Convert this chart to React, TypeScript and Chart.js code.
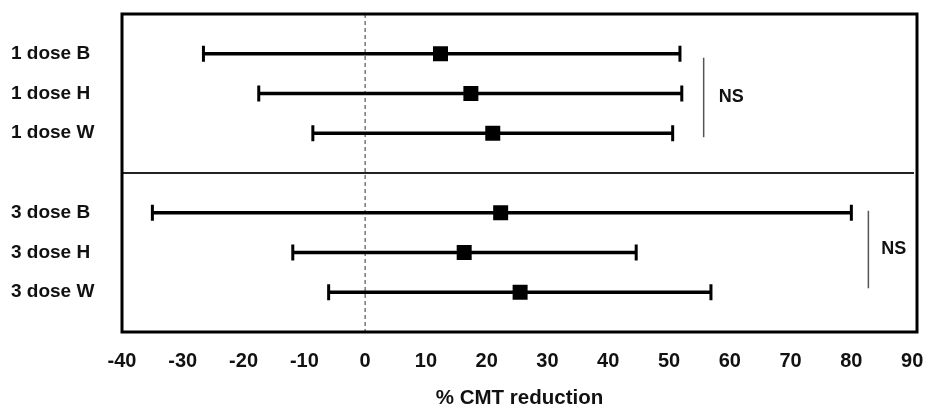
import React, { useEffect, useRef } from "react";
import { Chart, registerables } from "chart.js";

Chart.register(...registerables);

const categories = ["1 dose B", "1 dose H", "1 dose W", "3 dose B", "3 dose H", "3 dose W"];
const rowPositions = [0, 1, 2, 4, 5, 6];
const means = [12.4, 17.4, 21.0, 22.3, 16.3, 25.5];
const lows = [-26.6, -17.5, -8.6, -35.0, -11.9, -6.0];
const highs = [51.8, 52.1, 50.6, 80.0, 44.6, 56.9];
const xTicks = [-40, -30, -20, -10, 0, 10, 20, 30, 40, 50, 60, 70, 80, 90];
const dividerRow = 3;

const nsLabels = ["NS", "NS"];
const nsLineX = [55.7, 82.8];
const nsFrom = [0.1, 3.95];
const nsTo = [2.1, 5.9];
const nsTextX = [58.2, 84.9];

const FONT = "'Liberation Sans', Arial, Helvetica, sans-serif";

const forestPlugin = {
  id: "forestPlugin",
  beforeDatasetsDraw(chart: any) {
    const { ctx, chartArea, scales } = chart;
    const xs = scales.x;
    const ys = scales.y;
    ctx.save();
    const x0 = xs.getPixelForValue(0);
    ctx.strokeStyle = "#333";
    ctx.lineWidth = 1;
    ctx.setLineDash([4, 3]);
    ctx.beginPath();
    ctx.moveTo(x0, chartArea.top);
    ctx.lineTo(x0, chartArea.bottom);
    ctx.stroke();
    ctx.setLineDash([]);
    const yd = ys.getPixelForValue(dividerRow);
    ctx.strokeStyle = "#222";
    ctx.lineWidth = 2;
    ctx.beginPath();
    ctx.moveTo(chartArea.left, yd);
    ctx.lineTo(chartArea.right - 3, yd);
    ctx.stroke();
    ctx.strokeStyle = "#000";
    ctx.lineCap = "butt";
    rowPositions.forEach((r, i) => {
      const y = ys.getPixelForValue(r);
      const xl = xs.getPixelForValue(lows[i]);
      const xh = xs.getPixelForValue(highs[i]);
      ctx.lineWidth = 3.5;
      ctx.beginPath();
      ctx.moveTo(xl, y);
      ctx.lineTo(xh, y);
      ctx.stroke();
      ctx.lineWidth = 3;
      ctx.beginPath();
      ctx.moveTo(xl, y - 8);
      ctx.lineTo(xl, y + 8);
      ctx.moveTo(xh, y - 8);
      ctx.lineTo(xh, y + 8);
      ctx.stroke();
    });
    ctx.restore();
  },
  afterDraw(chart: any) {
    const { ctx, chartArea, scales } = chart;
    const xs = scales.x;
    const ys = scales.y;
    ctx.save();
    ctx.strokeStyle = "#000";
    ctx.lineWidth = 3;
    ctx.strokeRect(chartArea.left, chartArea.top, chartArea.right - chartArea.left, chartArea.bottom - chartArea.top);
    nsLabels.forEach((label, i) => {
      const x = xs.getPixelForValue(nsLineX[i]);
      const y1 = ys.getPixelForValue(nsFrom[i]);
      const y2 = ys.getPixelForValue(nsTo[i]);
      ctx.strokeStyle = "#555";
      ctx.lineWidth = 1.5;
      ctx.beginPath();
      ctx.moveTo(x, y1);
      ctx.lineTo(x, y2);
      ctx.stroke();
      ctx.fillStyle = "#111";
      ctx.font = `bold 18px ${FONT}`;
      ctx.textAlign = "left";
      ctx.textBaseline = "middle";
      ctx.fillText(label, xs.getPixelForValue(nsTextX[i]), (y1 + y2) / 2);
    });
    ctx.restore();
  },
};

export default function App() {
  const canvasRef = useRef<HTMLCanvasElement>(null);

  useEffect(() => {
    if (!canvasRef.current) return;
    const chart = new Chart(canvasRef.current, {
      type: "scatter",
      data: {
        datasets: [
          {
            data: rowPositions.map((r, i) => ({ x: means[i], y: r })),
            pointStyle: "rect",
            pointRadius: 10.6,
            pointHoverRadius: 10.6,
            backgroundColor: "#000",
            borderColor: "#000",
            borderWidth: 0,
          },
        ],
      },
      plugins: [forestPlugin],
      options: {
        animation: false,
        responsive: false,
        maintainAspectRatio: false,
        layout: { padding: { left: 11, right: 15, top: 14, bottom: 0 } },
        plugins: {
          legend: { display: false },
          tooltip: { enabled: false },
        },
        scales: {
          x: {
            type: "linear",
            min: -40,
            max: 90.8,
            grid: { display: false, drawTicks: false },
            border: { display: false },
            afterBuildTicks: (scale: any) => {
              scale.ticks = xTicks.map((v) => ({ value: v }));
            },
            afterFit: (scale: any) => {
              scale.height = 77;
              scale.paddingLeft = 0;
              scale.paddingRight = 0;
            },
            ticks: {
              color: "#111",
              padding: 17,
              maxRotation: 0,
              autoSkip: false,
              font: { family: FONT, size: 20, weight: "bold" },
            },
            title: {
              display: true,
              text: "% CMT reduction",
              color: "#111",
              padding: { top: 0, bottom: 0 },
              font: { family: FONT, size: 20.5, weight: "bold", lineHeight: 1 },
            },
          },
          y: {
            type: "linear",
            reverse: true,
            min: -1,
            max: 7,
            grid: { display: false, drawTicks: false },
            border: { display: false },
            afterBuildTicks: (scale: any) => {
              scale.ticks = rowPositions.map((v) => ({ value: v }));
            },
            afterFit: (scale: any) => {
              scale.width = 111;
              scale.paddingTop = 0;
              scale.paddingBottom = 0;
            },
            ticks: {
              color: "#111",
              crossAlign: "far",
              autoSkip: false,
              callback: (v: any) => {
                const idx = rowPositions.indexOf(Number(v));
                return idx >= 0 ? categories[idx] : "";
              },
              font: { family: FONT, size: 19, weight: "bold" },
            },
          },
        },
      },
    });
    return () => chart.destroy();
  }, []);

  return (
    <div style={{ position: "fixed", left: 0, top: 0, width: 932, height: 409, background: "#fff" }}>
      <canvas ref={canvasRef} width={932} height={409} style={{ display: "block" }} />
    </div>
  );
}
